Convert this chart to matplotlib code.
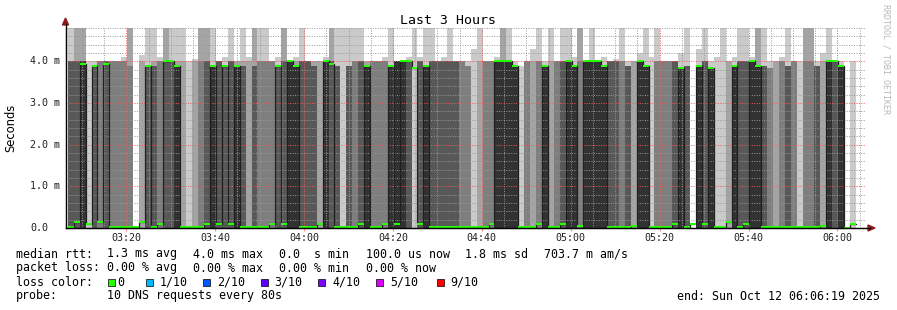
import numpy as np
import matplotlib
matplotlib.use("Agg")
import matplotlib.pyplot as plt
from matplotlib import transforms
from matplotlib.patches import Rectangle, Polygon
from matplotlib.lines import Line2D

plt.rcParams["font.family"] = "DejaVu Sans Mono"

W, H, DPI = 897, 310, 100

# time axis (minutes after 03:00)
t_start = 6.3167            # 03:06:19
t_end = 186.3167            # 06:06:19
first_step = 6.84           # start of first 80 s step
step_min = 80 / 60.0
tick_labels = ["03:20", "03:40", "04:00", "04:20", "04:40",
               "05:00", "05:20", "05:40", "06:00"]
tick_minutes = [20, 40, 60, 80, 100, 120, 140, 160, 180]

# per-step values (ms)
median_ms = [0.03, 0.14, 3.93, 0.10, 3.88, 0.14, 3.93, 0.03, 0.03, 0.03,
             0.03, 0.03, 0.14, 3.88, 0.03, 0.10, 4.00, 4.00, 3.88, 0.03,
             0.03, 0.03, 0.03, 0.10, 3.88, 0.10, 3.88, 0.10, 3.88, 0.03,
             0.03, 0.03, 0.03, 0.03, 0.10, 3.88, 0.10, 4.00, 3.88, 0.03,
             0.03, 0.03, 0.10, 4.00, 3.93, 0.03, 0.03, 0.03, 0.03, 0.10,
             3.88, 0.03, 0.03, 0.10, 3.88, 0.10, 4.00, 4.00, 3.83, 0.10,
             3.88, 0.03, 0.03, 0.03, 0.03, 0.03, 0.03, 0.03, 0.03, 0.03,
             0.03, 0.10, 4.00, 4.00, 4.00, 3.88, 0.03, 0.03, 0.03, 0.10,
             3.88, 0.03, 0.03, 0.10, 4.00, 3.88, 0.05, 4.00, 4.00, 4.00,
             3.88, 0.03, 0.03, 0.03, 0.03, 0.05, 4.00, 3.88, 0.03, 0.03,
             0.03, 0.03, 0.10, 3.83, 0.03, 0.10, 3.88, 0.10, 3.83, 0.03,
             0.03, 0.14, 3.88, 0.03, 0.10, 4.00, 3.88, 0.03, 0.03, 0.03,
             0.03, 0.03, 0.03, 0.03, 0.03, 0.03, 0.03, 0.05, 4.00, 4.00,
             3.88, 0.00, 0.10]
# how many of the 10 pings came back near 0 ms
n_fast = [6, 6, 5, 9, 4, 7, 4, 7, 7, 7,
          7, 10, 8, 4, 6, 7, 4, 4, 5, 8,
          9, 8, 7, 6, 5, 6, 4, 6, 5, 6,
          8, 6, 7, 7, 7, 4, 6, 5, 5, 6,
          6, 6, 8, 5, 4, 6, 9, 6, 7, 6,
          5, 7, 7, 7, 5, 5, 5, 4, 1, 6,
          5, 6, 6, 6, 6, 6, 7, 7, 9, 8,
          7, 7, 5, 5, 5, 5, 9, 7, 8, 7,
          5, 8, 7, 6, 5, 5, 7, 5, 5, 5,
          5, 6, 6, 7, 6, 8, 5, 5, 9, 7,
          7, 7, 6, 5, 6, 10, 5, 6, 5, 9,
          9, 8, 5, 6, 6, 5, 5, 6, 7, 8,
          7, 6, 7, 9, 7, 7, 6, 8, 5, 4,
          5, 10, 9]
# level of the slow pings
slow_ms = [4.0, 4.0, 4.0, 4.0, 3.9, 4.0, 4.0, 4.0, 4.0, 4.0,
           3.9, 4.0, 4.0, 3.9, 3.9, 4.0, 4.0, 4.0, 3.9, 4.0,
           3.9, 4.0, 4.0, 4.0, 3.9, 4.0, 3.9, 4.0, 3.9, 3.9,
           4.0, 3.9, 4.0, 4.0, 4.0, 3.9, 4.0, 4.0, 3.9, 4.0,
           4.0, 3.9, 4.0, 4.0, 4.0, 3.9, 3.9, 3.9, 4.0, 4.0,
           3.9, 4.0, 4.0, 4.0, 3.9, 4.0, 4.0, 4.0, 3.83, 4.0,
           3.9, 4.0, 4.0, 4.0, 4.0, 4.0, 4.0, 3.9, 4.0, 4.0,
           4.0, 4.0, 4.0, 4.0, 4.0, 3.9, 3.9, 4.0, 4.0, 4.0,
           3.9, 4.0, 4.0, 4.0, 4.0, 3.9, 4.0, 4.0, 4.0, 4.0,
           3.9, 4.0, 4.0, 4.0, 3.9, 4.0, 4.0, 3.9, 4.0, 4.0,
           4.0, 4.0, 4.0, 3.83, 3.9, 4.0, 3.9, 4.0, 3.83, 4.0,
           4.0, 4.0, 3.9, 4.0, 4.0, 4.0, 3.9, 3.9, 3.85, 4.0,
           4.0, 3.9, 4.0, 3.9, 4.0, 4.0, 3.9, 4.0, 4.0, 4.0,
           3.9, 4.0, 4.0]
# second slowest and slowest ping
ping9_ms = [4.0, 4.8, 4.8, 4.0, 3.9, 4.0, 4.0, 4.0, 4.0, 4.0,
            4.8, 4.0, 4.0, 3.9, 4.0, 4.0, 4.8, 4.0, 4.0, 4.0,
            3.9, 4.0, 4.8, 4.8, 3.9, 4.0, 3.9, 4.0, 4.0, 4.0,
            4.0, 4.8, 4.0, 4.0, 4.0, 3.9, 4.8, 4.0, 4.0, 4.0,
            4.0, 4.0, 4.0, 4.0, 4.8, 3.9, 3.9, 3.9, 4.0, 4.0,
            4.0, 4.0, 4.0, 4.0, 3.9, 4.0, 4.0, 4.0, 3.83, 4.0,
            3.9, 4.0, 4.0, 4.0, 4.0, 4.0, 4.0, 3.9, 4.0, 4.0,
            4.0, 4.0, 4.0, 4.8, 4.0, 3.9, 3.9, 4.0, 4.0, 4.0,
            3.9, 4.0, 4.0, 4.0, 4.0, 3.9, 4.8, 4.0, 4.0, 4.0,
            3.9, 4.0, 4.0, 4.0, 3.9, 4.0, 4.0, 3.9, 4.0, 4.0,
            4.0, 4.0, 4.0, 3.83, 3.9, 4.0, 3.9, 4.0, 3.83, 4.0,
            4.0, 4.0, 3.9, 4.0, 4.0, 4.0, 4.8, 3.9, 3.85, 4.0,
            4.0, 3.9, 4.0, 3.9, 4.8, 4.8, 3.9, 4.0, 4.0, 4.0,
            3.9, 4.0, 4.0]
ping10_ms = [4.8, 4.8, 4.8, 4.0, 4.0, 4.0, 4.0, 4.0, 4.0, 4.1,
             4.8, 4.0, 4.15, 4.8, 4.8, 4.1, 4.8, 4.8, 4.8, 4.8,
             4.0, 4.05, 4.8, 4.8, 4.8, 4.0, 4.1, 4.8, 4.0, 4.8,
             4.1, 4.8, 4.8, 4.8, 4.0, 4.1, 4.8, 4.0, 4.1, 4.8,
             4.0, 4.0, 4.0, 4.1, 4.8, 4.8, 4.8, 4.8, 4.8, 4.8,
             4.0, 4.0, 4.0, 4.1, 4.8, 4.0, 4.0, 4.1, 4.8, 4.1,
             4.8, 4.8, 4.0, 4.1, 4.8, 4.0, 4.0, 4.0, 4.3, 4.8,
             4.0, 4.0, 4.1, 4.8, 4.8, 4.0, 3.9, 4.0, 4.3, 4.8,
             4.0, 4.8, 4.0, 4.8, 4.8, 4.1, 4.8, 4.0, 4.8, 4.0,
             4.1, 4.0, 4.05, 4.8, 4.0, 4.0, 4.2, 4.8, 4.1, 4.8,
             4.0, 4.0, 4.0, 4.2, 4.8, 4.0, 4.3, 4.8, 4.0, 4.1,
             4.8, 4.0, 4.1, 4.8, 4.8, 4.1, 4.8, 4.8, 4.0, 4.0,
             4.1, 4.8, 4.0, 4.0, 4.8, 4.8, 4.0, 4.2, 4.8, 4.0,
             4.0, 4.0, 4.0]

loss_labels = ["0", "1/10", "2/10", "3/10", "4/10", "5/10", "9/10"]
loss_colors = ["#26ff00", "#00b8ff", "#0059ff", "#5e00ff", "#7e00ff",
               "#dd00ff", "#ff0000"]


def step_pings(i):
    k = n_fast[i]
    p = [0.0] * k + [slow_ms[i]] * (10 - k)
    if k <= 8:
        p[8] = ping9_ms[i]
    if k <= 9:
        p[9] = ping10_ms[i]
    return sorted(p)


def fx(px):
    return px / W


def fy(py):
    return 1 - py / H


fig = plt.figure(figsize=(W / DPI, H / DPI), dpi=DPI)
fig.patch.set_facecolor("white")
ax = fig.add_axes([fx(65.5), fy(228), 800 / W, 200 / H])
ax.set_facecolor("white")

n = len(median_ms)
edges = first_step + step_min * np.arange(n + 1)
pings = np.array([step_pings(i) for i in range(n)])

# smoke: outer pair of pings lightest, inner pair darkest
for b, s in enumerate([202, 164, 126, 88, 50]):
    lo = np.append(pings[:, b], pings[-1, b])
    hi = np.append(pings[:, 9 - b], pings[-1, 9 - b])
    ax.fill_between(edges, lo, hi, step="post", color="#%02x%02x%02x" % (s, s, s),
                    linewidth=0, antialiased=False, zorder=1)

med = np.append(median_ms, median_ms[-1])
ax.step(edges, med, where="post", color="#202020", linewidth=0.9, zorder=3)
sw = 4.8 / 200
ax.fill_between(edges, np.maximum(med - sw, 0), med + sw, step="post",
                color=loss_colors[0], linewidth=0, antialiased=False, zorder=4)

ax.set_xlim(t_start, t_end)
ax.set_ylim(0, 4.8)
ax.set_xticks(tick_minutes)
ax.set_xticks(np.arange(10, 186, 5), minor=True)
ax.set_yticks([0, 1, 2, 3, 4])
ax.set_yticks(np.arange(0.2, 4.81, 0.2), minor=True)
ax.set_axisbelow(False)
ax.grid(which="minor", color=(0.6, 0.6, 0.6, 0.4), linestyle=(0, (1, 1.5)), linewidth=0.7)
ax.grid(which="major", color=(0.95, 0.35, 0.35, 0.45), linestyle=(0, (1, 1.5)), linewidth=0.7)
ax.tick_params(axis="y", which="both", length=0, labelleft=False)
ax.tick_params(axis="x", which="major", length=2.5, color="#ff9090", labelbottom=False)
ax.tick_params(axis="x", which="minor", length=0)
for side in ["top", "right"]:
    ax.spines[side].set_visible(False)
for side in ["left", "bottom"]:
    ax.spines[side].set_color("black")
    ax.spines[side].set_linewidth(0.9)
    ax.spines[side].set_zorder(5)

# axis extensions and arrows
fig.add_artist(Line2D([fx(65.5), fx(65.5)], [fy(228), fy(24)], color="black", lw=0.9,
                      transform=fig.transFigure))
fig.add_artist(Line2D([fx(65.5), fx(870)], [fy(228), fy(228)], color="black", lw=0.9,
                      transform=fig.transFigure))
fig.add_artist(Polygon([(fx(65.5), fy(18)), (fx(62.5), fy(25)), (fx(68.5), fy(25))],
                       closed=True, color="#8c1c1c", transform=fig.transFigure))
fig.add_artist(Polygon([(fx(875), fy(228)), (fx(868), fy(225)), (fx(868), fy(231))],
                       closed=True, color="#8c1c1c", transform=fig.transFigure))

# tick labels
tx = transforms.blended_transform_factory(ax.transData, fig.transFigure)
for m, lab in zip(tick_minutes, tick_labels):
    ax.text(m, fy(238), lab, transform=tx, ha="center", va="center", fontsize=7.2,
            color="#202020")
ty = transforms.blended_transform_factory(fig.transFigure, ax.transData)
for v in [0, 1, 2, 3, 4]:
    lab = "0.0" if v == 0 else "%.1f m" % v
    ax.text(fx(30), v, lab, transform=ty, ha="left", va="center", fontsize=7.2,
            color="#202020")

fig.text(fx(448), fy(20), "Last 3 Hours", ha="center", va="center", fontsize=9.5)
fig.text(fx(11), fy(128), "Seconds", rotation=90, ha="center", va="center",
         fontsize=8.3, family="DejaVu Sans")
fig.text(fx(886), fy(4), "RRDTOOL / TOBI OETIKER", rotation=270, ha="center", va="top",
         fontsize=6, color="#b8b8b8")

# legend
fs = 8.4
rows = [254, 268, 282, 296]
fig.text(fx(16), fy(rows[0]), "median rtt:", va="center", fontsize=fs)
for x, s in zip([107.3, 193.3, 279.3, 365.7, 465.3, 544.3],
                ["1.3 ms avg", "4.0 ms max", "0.0  s min", "100.0 us now",
                 "1.8 ms sd", "703.7 m am/s"]):
    fig.text(fx(x), fy(rows[0]), s, va="center", fontsize=fs)
fig.text(fx(16), fy(rows[1]), "packet loss:", va="center", fontsize=fs)
for x, s in zip([107.3, 193.3, 279.3, 365.7],
                ["0.00 % avg", "0.00 % max", "0.00 % min", "0.00 % now"]):
    fig.text(fx(x), fy(rows[1]), s, va="center", fontsize=fs)
fig.text(fx(16), fy(rows[2]), "loss color:", va="center", fontsize=fs)
box_x = [108.3, 145.7, 203.0, 260.7, 318.3, 375.7, 436.7]
lab_x = [117.3, 160.0, 217.3, 274.7, 332.7, 390.0, 450.0]
for bx, lx, lab, c in zip(box_x, lab_x, loss_labels, loss_colors):
    fig.add_artist(Rectangle((fx(bx), fy(rows[2] + 3.5)), 7 / W, 7 / H, facecolor=c,
                             edgecolor="black", linewidth=0.5, transform=fig.transFigure))
    fig.text(fx(lx), fy(rows[2]), lab, va="center", fontsize=fs)
fig.text(fx(16), fy(rows[3]), "probe:", va="center", fontsize=fs)
fig.text(fx(107.3), fy(rows[3]), "10 DNS requests every 80s", va="center", fontsize=fs)
fig.text(fx(880), fy(rows[3]), "end: Sun Oct 12 06:06:19 2025", ha="right", va="center",
         fontsize=fs)

fig.savefig("out.png", dpi=DPI, facecolor="white")
